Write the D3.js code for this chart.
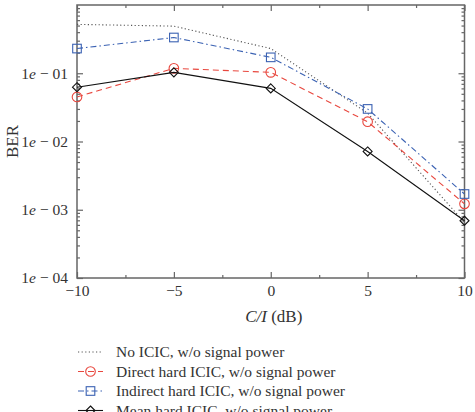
<!DOCTYPE html>
<html>
<head>
<meta charset="utf-8">
<script src="https://cdn.jsdelivr.net/npm/d3@7"></script>
<style>
body { margin: 0; background: #fff; }
text { font-family: "Liberation Serif", "DejaVu Serif", serif; fill: #333; }
</style>
</head>
<body>
<svg id="chart"></svg>
<script>
let width = 475;
let height = 412;
let margin = {"top": 5, "bottom": 134, "left": 77, "right": 10}

// C/I in dB
const ciValues = [-10, -5, 0, 5, 10];
const xTicks = [-10, -5, 0, 5, 10];
const xMinorTicks = [-7.5, -2.5, 2.5, 7.5];
const yTicks = [1e-4, 1e-3, 1e-2, 1e-1];
const yTickLabels = ["04", "03", "02", "01"];

const seriesNames = [
    "No ICIC, w/o signal power",
    "Direct hard ICIC, w/o signal power",
    "Indirect hard ICIC, w/o signal power",
    "Mean hard ICIC, w/o signal power"
];
const noIcic = [0.52, 0.49, 0.23, 0.026, 0.00065];
const directHard = [0.045, 0.118, 0.103, 0.0195, 0.00122];
const indirectHard = [0.23, 0.334, 0.171, 0.030, 0.0017];
const meanHard = [0.0625, 0.103, 0.060, 0.00715, 0.00069];

let series = [
    {name: seriesNames[0], values: noIcic, color: "#555", dash: "1.2,2.4", marker: null},
    {name: seriesNames[1], values: directHard, color: "#e8473e", dash: "6,4", marker: "circle"},
    {name: seriesNames[2], values: indirectHard, color: "#3b62b3", dash: "6,3,1.5,3", marker: "square"},
    {name: seriesNames[3], values: meanHard, color: "#111", dash: null, marker: "diamond"}
];

let svg = d3.select("#chart")
    .attr("width", width)
    .attr("height", height);

let x = d3.scaleLinear()
    .domain([-10, 10])
    .range([margin.left, width - margin.right - 0.5]);
let y = d3.scaleLog()
    .domain([1e-4, 1])
    .range([height - margin.bottom, margin.top]);

let minorY = [];
for (let e = -4; e < 0; e++) {
    for (let k = 2; k <= 9; k++) minorY.push(k * Math.pow(10, e));
}

let axisColor = "#666";
function styleAxis(g) {
    g.select(".domain").remove();
    g.selectAll(".tick line").attr("stroke", axisColor).attr("stroke-width", 1.2);
}

// frame
svg.append("rect")
    .attr("x", x(-10))
    .attr("y", y(1))
    .attr("width", x(10) - x(-10))
    .attr("height", y(1e-4) - y(1))
    .attr("fill", "none")
    .attr("stroke", axisColor)
    .attr("stroke-width", 1.5);

// bottom axis
svg.append("g")
    .attr("transform", `translate(0,${y(1e-4)})`)
    .call(d3.axisBottom(x).tickValues(xTicks).tickSize(-6).tickPadding(7)
        .tickFormat(d => d < 0 ? "\u2212" + Math.abs(d) : d))
    .call(styleAxis)
    .call(g => g.selectAll("text").style("font-size", "15.5px").attr("fill", "#333")
        .style("font-family", "Liberation Serif"));
svg.append("g")
    .attr("transform", `translate(0,${y(1e-4)})`)
    .call(d3.axisBottom(x).tickValues(xMinorTicks).tickSize(-3).tickFormat(""))
    .call(styleAxis);
// top axis
svg.append("g")
    .attr("transform", `translate(0,${y(1)})`)
    .call(d3.axisTop(x).tickValues(xTicks).tickSize(-6).tickFormat(""))
    .call(styleAxis);
svg.append("g")
    .attr("transform", `translate(0,${y(1)})`)
    .call(d3.axisTop(x).tickValues(xMinorTicks).tickSize(-3).tickFormat(""))
    .call(styleAxis);

// left axis
let leftAxis = svg.append("g")
    .attr("transform", `translate(${x(-10)},0)`)
    .call(d3.axisLeft(y).tickValues(yTicks).tickSize(-6).tickPadding(9).tickFormat(""))
    .call(styleAxis);
leftAxis.selectAll(".tick text")
    .style("font-size", "15.5px")
    .style("font-family", "Liberation Serif")
    .attr("fill", "#333")
    .each(function(d, i) {
        let t = d3.select(this);
        t.append("tspan").text("1");
        t.append("tspan").style("font-style", "italic").text("e");
        t.append("tspan").text(" \u2212 " + yTickLabels[i]);
    });
svg.append("g")
    .attr("transform", `translate(${x(-10)},0)`)
    .call(d3.axisLeft(y).tickValues(minorY).tickSize(-3).tickFormat(""))
    .call(styleAxis);
// right axis
svg.append("g")
    .attr("transform", `translate(${x(10)},0)`)
    .call(d3.axisRight(y).tickValues(yTicks).tickSize(-6).tickFormat(""))
    .call(styleAxis);
svg.append("g")
    .attr("transform", `translate(${x(10)},0)`)
    .call(d3.axisRight(y).tickValues(minorY).tickSize(-3).tickFormat(""))
    .call(styleAxis);

// axis titles
let xTitle = svg.append("text")
    .attr("x", x(0) + 3)
    .attr("y", 322)
    .style("text-anchor", "middle")
    .style("font-size", "17px");
xTitle.append("tspan").style("font-style", "italic").text("C/I");
xTitle.append("tspan").text(" (dB)");

svg.append("text")
    .attr("transform", `translate(18,${(y(1) + y(1e-4)) / 2}) rotate(-90)`)
    .style("text-anchor", "middle")
    .style("font-size", "17px")
    .text("BER");

function drawMarker(g, type, cx, cy, color) {
    if (type == "circle") {
        g.append("circle").attr("cx", cx).attr("cy", cy).attr("r", 4.8)
            .attr("fill", "none").attr("stroke", color).attr("stroke-width", 1.1);
    }
    if (type == "square") {
        g.append("rect").attr("x", cx - 4.3).attr("y", cy - 4.3)
            .attr("width", 8.6).attr("height", 8.6)
            .attr("fill", "none").attr("stroke", color).attr("stroke-width", 1.1);
    }
    if (type == "diamond") {
        g.append("path")
            .attr("d", `M${cx},${cy - 4.5}L${cx + 4.5},${cy}L${cx},${cy + 4.5}L${cx - 4.5},${cy}Z`)
            .attr("fill", "none").attr("stroke", color).attr("stroke-width", 1.1);
    }
}

let line = d3.line()
    .x((d, i) => x(ciValues[i]))
    .y(d => y(d));

series.forEach(function(s) {
    let g = svg.append("g");
    g.append("path")
        .attr("d", line(s.values))
        .attr("fill", "none")
        .attr("stroke", s.color)
        .attr("stroke-width", 1.1)
        .attr("stroke-dasharray", s.dash);
    if (s.marker) {
        s.values.forEach(function(v, i) {
            drawMarker(g, s.marker, x(ciValues[i]), y(v), s.color);
        });
    }
});

// legend
let legend = svg.append("g");
series.forEach(function(s, i) {
    let ly = 352 + i * 19.5;
    legend.append("line")
        .attr("x1", 78).attr("x2", 103)
        .attr("y1", ly).attr("y2", ly)
        .attr("stroke", s.color)
        .attr("stroke-width", 1.1)
        .attr("stroke-dasharray", s.dash);
    if (s.marker) drawMarker(legend, s.marker, 90.5, ly, s.color);
    legend.append("text")
        .attr("x", 116)
        .attr("y", ly + 5)
        .style("font-size", "15.5px")
        .text(s.name);
});
</script>
</body>
</html>
